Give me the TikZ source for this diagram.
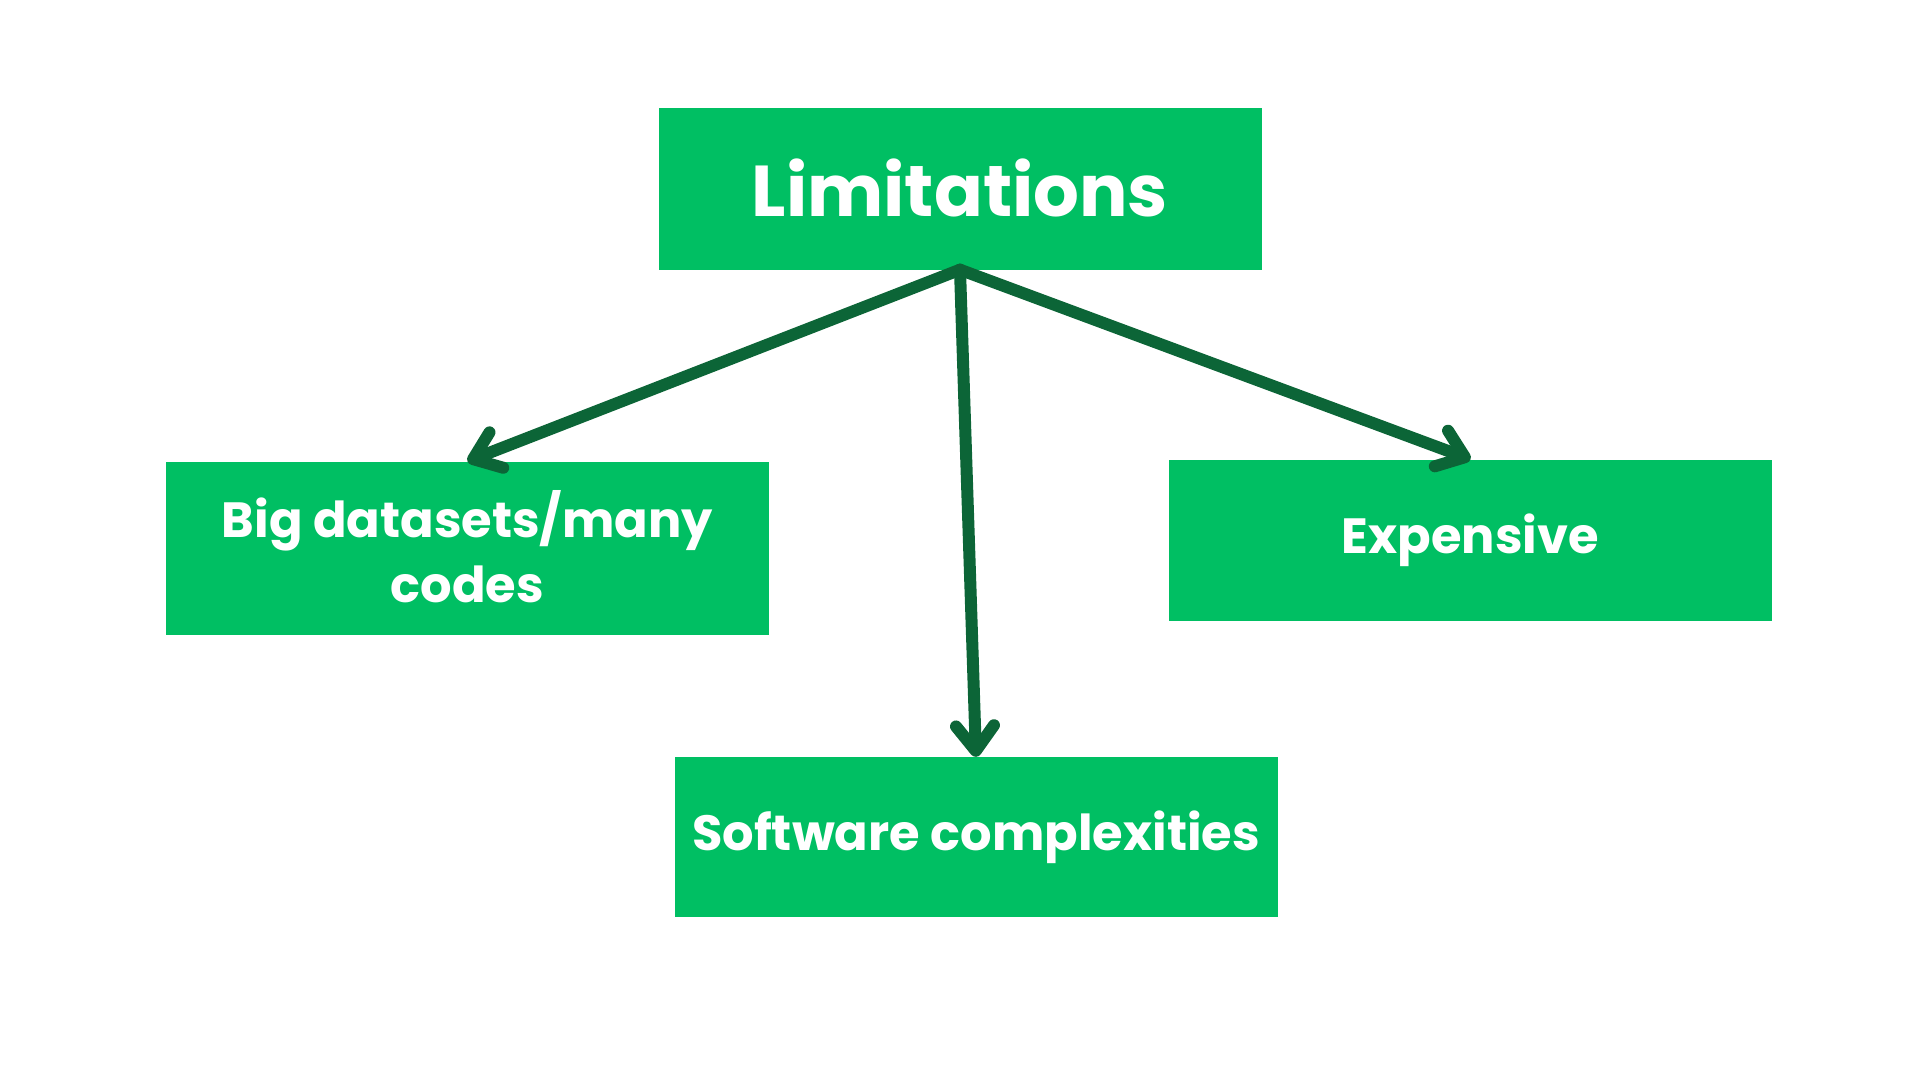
\documentclass[tikz,border=0pt]{standalone}
\usepackage{fontspec}
\setmainfont{Poppins}
\usetikzlibrary{arrows.meta}
\definecolor{boxgreen}{HTML}{00BF63}
\definecolor{arrgreen}{HTML}{0C6537}
\begin{document}
\begin{tikzpicture}[x=1pt, y=-1pt,
    box/.style = {fill=boxgreen, text=white, minimum width=603pt, inner sep=0pt, align=center, font=\bfseries\fontsize{49.5}{66}\selectfont},
    arr/.style = {draw=arrgreen, line width=12pt, line cap=round, -{Straight Barb[length=25pt, width=38pt, round]}}]

    \useasboundingbox (0, 0) rectangle (1920, 1080);

    \node[box, minimum height=162pt, font=\bfseries\fontsize{72}{90}\selectfont] (lim) at (960, 188.5) {\raisebox{2.5pt}{Limitations}};

    \node[box, minimum height=173pt] (big) at (467.5, 548) {\raisebox{3pt}{\shortstack{Big datasets/many\\[11pt]codes}}};
    \node[box, minimum height=161pt] (exp) at (1470.5, 540) {Expensive};
    \node[box, minimum height=160pt] (soft) at (976, 837) {Software complexities};

    \draw[arr] (lim.south) -- (big.north);
    \draw[arr] (lim.south) -- (soft.north);
    \draw[arr] (lim.south) -- (exp.north);

\end{tikzpicture}
\end{document}
